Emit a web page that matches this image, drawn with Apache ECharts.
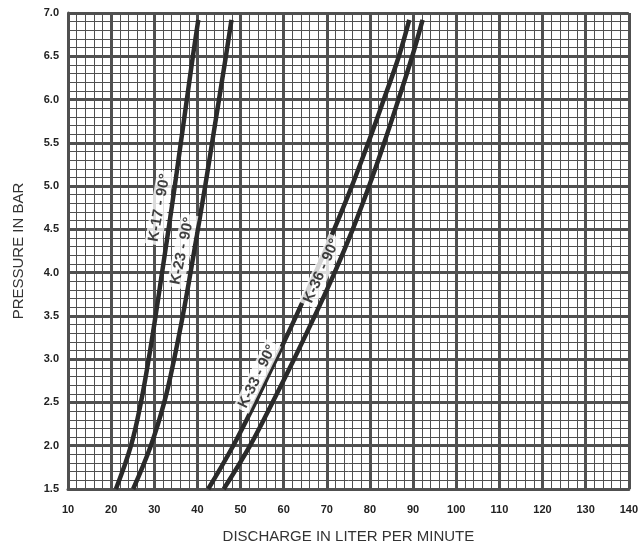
<!DOCTYPE html>
<html>
<head>
<meta charset="utf-8">
<script src="https://cdn.jsdelivr.net/npm/echarts@6/dist/echarts.min.js"></script>
<style>
html, body { margin: 0; padding: 0; background: #fff; }
#chart { width: 641px; height: 549px; }
</style>
</head>
<body>
<div id="chart"></div>
<script>
// pressure steps (bar)
var pressures = [1.5, 2.0, 2.5, 3.0, 3.5, 4.0, 4.5, 5.0, 5.5, 6.0, 6.5, 6.92];
// discharge (l/min) of each nozzle at those pressures
var k17 = [21.1, 24.6, 26.9, 28.7, 30.3, 31.8, 33.3, 34.75, 36.15, 37.55, 38.95, 40.2];
var k23 = [25.1, 29.2, 32.3, 34.6, 36.6, 38.4, 40.1, 41.8, 43.4, 45.0, 46.6, 47.9];
var k33 = [42.5, 48.3, 53.4, 58.2, 62.9, 67.4, 71.7, 75.8, 79.6, 83.2, 86.7, 89.1];
var k36 = [46.1, 52.2, 57.4, 62.4, 67.2, 71.8, 76.0, 79.8, 83.3, 86.6, 89.8, 92.2];
var names = ['K-17 - 90°', 'K-23 - 90°', 'K-33 - 90°', 'K-36 - 90°'];
// where each curve label sits: [discharge, pressure, angle]
var labelSpots = [[31.2, 4.75, 80], [36.5, 4.25, 78], [53.9, 2.8, 64], [68.8, 4.02, 66]];

function pairs(q) {
	var out = [];
	for (var i = 0; i < q.length; i++) {
		out.push([q[i], pressures[i]]);
	}
	return out;
}

var myChart = echarts.init(document.getElementById('chart'));
var gridColor = '#505050';
var curves = [k17, k23, k33, k36];
var series = [];
for (var i = 0; i < curves.length; i++) {
	series.push({
		name : names[i],
		type : 'line',
		smooth : 0.4,
		symbol : 'none',
		data : pairs(curves[i]),
		lineStyle : { color : '#2a2a2a', width : 4.5, cap : 'butt' },
		z : 3
	});
}
// labels on the curves, white boxes like the printed chart
var labelData = [];
for (var i = 0; i < labelSpots.length; i++) {
	labelData.push({
		value : [labelSpots[i][0], labelSpots[i][1]],
		label : { formatter : names[i], rotate : labelSpots[i][2] }
	});
}
series.push({
	type : 'scatter',
	symbolSize : 0,
	data : labelData,
	z : 5,
	label : {
		show : true,
		position : 'inside',
		color : '#111',
		fontWeight : 'bold',
		fontSize : 15,
		fontFamily : 'Liberation Sans, Arial, sans-serif',
		backgroundColor : '#fff',
		padding : [1, 3]
	}
});

var option = {
	animation : false,
	grid : { left : 68, top : 13, right : 11, bottom : 58 },
	xAxis : {
		type : 'value',
		min : 10,
		max : 140,
		interval : 10,
		name : 'DISCHARGE IN LITER PER MINUTE',
		nameLocation : 'middle',
		nameGap : 40,
		nameTextStyle : { fontSize : 15, color : '#333', fontFamily : 'Liberation Sans, Arial, sans-serif' },
		axisLine : { show : true, lineStyle : { color : gridColor, width : 3 } },
		axisTick : { show : false },
		axisLabel : { color : '#222', fontWeight : 'bold', fontSize : 11, margin : 15, fontFamily : 'Liberation Sans, Arial, sans-serif' },
		splitLine : { show : true, lineStyle : { color : gridColor, width : 3 } },
		minorTick : { show : false, splitNumber : 5 },
		minorSplitLine : { show : true, lineStyle : { color : gridColor, width : 1 } }
	},
	yAxis : {
		type : 'value',
		min : 1.5,
		max : 7.0,
		interval : 0.5,
		name : 'PRESSURE IN BAR',
		nameLocation : 'middle',
		nameGap : 42,
		nameTextStyle : { fontSize : 15, color : '#333', fontFamily : 'Liberation Sans, Arial, sans-serif' },
		axisLine : { show : true, lineStyle : { color : gridColor, width : 3 } },
		axisTick : { show : false },
		axisLabel : {
			color : '#222', fontWeight : 'bold', fontSize : 11, margin : 9,
			fontFamily : 'Liberation Sans, Arial, sans-serif',
			formatter : function (v) { return v.toFixed(1); }
		},
		splitLine : { show : true, lineStyle : { color : gridColor, width : 3 } },
		minorTick : { show : false, splitNumber : 5 },
		minorSplitLine : { show : true, lineStyle : { color : gridColor, width : 1 } }
	},
	series : series
};
myChart.setOption(option);
</script>
</body>
</html>
